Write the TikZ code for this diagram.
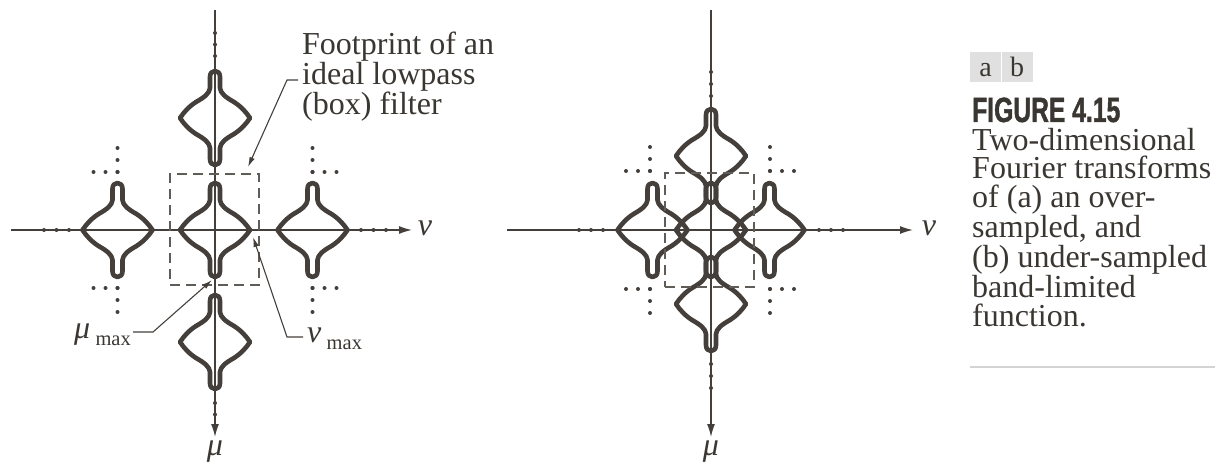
\documentclass[tikz,border=0pt]{standalone}
\usepackage{fontspec}
\setmainfont{Liberation Serif}
\newfontfamily\figsans[FakeStretch=0.705,FakeBold=1.2]{Liberation Sans}
\usetikzlibrary{arrows.meta,calc}
\definecolor{ink}{RGB}{68,63,58}
\definecolor{txt}{RGB}{58,54,50}
\definecolor{boxgray}{RGB}{224,224,224}
\definecolor{rulegray}{RGB}{212,212,212}
\tikzset{
  pics/lobe/.style={code={
    \draw[lobeline] (0,-47) .. controls (3,-47) and (5,-45) .. (5,-41) -- (5,-30)
      .. controls (5.5,-25) and (10,-21) .. (19,-16)
      .. controls (26,-11.5) and (31,-6) .. (35,0)
      .. controls (31,6) and (26,11.5) .. (19,16)
      .. controls (10,21) and (5.5,25) .. (5,30)
      -- (5,41) .. controls (5,45) and (3,47) .. (0,47)
      .. controls (-3,47) and (-5,45) .. (-5,41) -- (-5,30)
      .. controls (-5.5,25) and (-10,21) .. (-19,16)
      .. controls (-26,11.5) and (-31,6) .. (-35,0)
      .. controls (-31,-6) and (-26,-11.5) .. (-19,-16)
      .. controls (-10,-21) and (-5.5,-25) .. (-5,-30)
      -- (-5,-41) .. controls (-5,-45) and (-3,-47) .. (0,-47) -- cycle;
  }},
  lobeline/.style={draw=ink, line width=4.6pt, line join=round},
  axisline/.style={draw=ink, line width=1.3pt},
  axisarrow/.style={axisline, -{Latex[length=13pt,width=8pt]}},
  footbox/.style={draw=ink!85, line width=1.3pt, dash pattern=on 10pt off 6pt, inner sep=0pt},
  lead/.style={draw=ink, line width=1.1pt, -{Latex[length=10pt,width=5.5pt]}},
  dotmark/.style={fill=ink},
  lbl/.style={text=txt, font=\fontsize{32}{28.5}\selectfont, inner sep=0pt, align=left},
  axlbl/.style={text=txt, font=\fontsize{32}{32}\selectfont\itshape, inner sep=0pt},
  abox/.style={fill=boxgray, text=txt, inner sep=0pt, minimum width=31pt, minimum height=30pt,
    text height=19pt, text depth=0pt, font=\fontsize{28}{28}\selectfont},
}
\begin{document}
\begin{tikzpicture}[x=1pt,y=-1pt]
\path[use as bounding box] (0,0) rectangle (1220,462);

% ---------- panel (a) ----------
\draw[axisarrow] (11,230) coordinate (ha0) -- (412,230) coordinate (ha1);
\draw[axisarrow] (215,10) coordinate (va0) -- (215,437) coordinate (va1);
\node[axlbl] (nuA) at (425,228) {ν};
\node[axlbl] (muA) at (215,452) {μ};
\foreach \p in {(215,230),(117.5,230),(312.5,230),(215,118),(215,342)}
  \pic at \p {lobe};
\foreach \y in {33,44.5,56,403,414.5,426} \fill[dotmark] (215,\y) circle (2pt);
\foreach \x in {44,56.5,69,361,373.5,386} \fill[dotmark] (\x,230) circle (2pt);
\foreach \cx/\cy/\sx/\sy in {117.5/172/-1/-1, 312.5/172/1/-1, 117.5/288/-1/1, 312.5/288/1/1}
  \foreach \k in {0,1,2} {
    \fill[dotmark] (\cx+\sx*12*\k,\cy) circle (2pt);
    \fill[dotmark] (\cx,\cy+\sy*12*\k) circle (2pt);
  };
\node[footbox, draw, minimum width=89pt, minimum height=111pt] (boxA) at (214.5,229.5) {};

\node[lbl, anchor=base west] (fp) at (302,115) {Footprint of an\\ideal lowpass\\(box) filter};
\coordinate (fpbend) at (287,80);
\coordinate (fptip) at (248,167);
\draw[lead] ($(fp.base west)+(-4,-35)$) -- (fpbend) -- (fptip);

\node[text=txt, inner sep=0pt, anchor=base east] (mumax) at (131,338)
  {\fontsize{32}{32}\selectfont\itshape μ\,\raisebox{-7pt}{\fontsize{20.5}{20}\selectfont\upshape max}};
\coordinate (mubend) at (153,332);
\coordinate (mutip) at (212,280);
\draw[lead] ($(mumax.base east)+(2,-6)$) -- (mubend) -- (mutip);

\node[text=txt, inner sep=0pt, anchor=base west] (numax) at (307,342)
  {\fontsize{32}{32}\selectfont\itshape ν\,\raisebox{-7pt}{\fontsize{20.5}{20}\selectfont\upshape max}};
\coordinate (nubend) at (287,337);
\coordinate (nutip) at (253,237);
\draw[lead] ($(numax.base west)+(-4,-5)$) -- (nubend) -- (nutip);

% ---------- panel (b) ----------
\draw[axisarrow] (507,230) coordinate (hb0) -- (913,230) coordinate (hb1);
\draw[axisarrow] (711,10) coordinate (vb0) -- (711,437) coordinate (vb1);
\node[axlbl] (nuB) at (929,228) {ν};
\node[axlbl] (muB) at (711,452) {μ};
\foreach \p in {(711,230),(652.5,230),(769.5,230),(711,156),(711,304)}
  \pic at \p {lobe};
\foreach \y in {72,84,96,364,376,388} \fill[dotmark] (711,\y) circle (2pt);
\foreach \x in {579,591,603,819,831,843} \fill[dotmark] (\x,230) circle (2pt);
\foreach \cx/\cy/\sx/\sy in {650/171/-1/-1, 770/171/1/-1, 650/289/-1/1, 770/289/1/1}
  \foreach \k in {0,1,2} {
    \fill[dotmark] (\cx+\sx*12*\k,\cy) circle (2pt);
    \fill[dotmark] (\cx,\cy+\sy*12*\k) circle (2pt);
  };
\node[footbox, draw, minimum width=89pt, minimum height=114pt] (boxB) at (709.5,230) {};

% ---------- caption ----------
\node[abox] (la) at (985.5,67) {a};
\node[abox] (lb) at (1017,67) {b};
\node[text=txt, inner sep=0pt, anchor=base west, font=\figsans\bfseries\fontsize{35}{35}\selectfont] (fig) at (972,122) {FIGURE 4.15};
\node[lbl, anchor=base west] (cap) at (972,326) {Two-dimensional\\Fourier transforms\\of (a) an over-\\sampled, and\\(b) under-sampled\\band-limited\\function.};
\draw[rulegray, line width=1.5pt] (970,367) coordinate (r0) -- (1215,367) coordinate (r1);
\end{tikzpicture}
\end{document}
